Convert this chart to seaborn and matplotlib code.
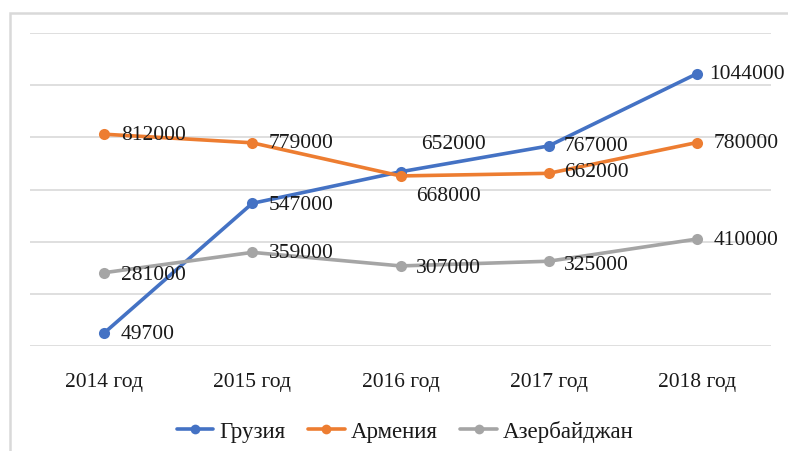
import matplotlib
matplotlib.use("Agg")
import matplotlib.pyplot as plt
import seaborn as sns
import pandas as pd
from matplotlib.patches import Rectangle

years = ["2014 год", "2015 год", "2016 год", "2017 год", "2018 год"]
georgia = [49700, 547000, 668000, 767000, 1044000]
armenia = [812000, 779000, 652000, 662000, 780000]
azerbaijan = [281000, 359000, 307000, 325000, 410000]
series_names = ["Грузия", "Армения", "Азербайджан"]
colors = ["#4472C4", "#ED7D31", "#A5A5A5"]

rows = []
for name, vals in zip(series_names, [georgia, armenia, azerbaijan]):
    for i, v in enumerate(vals):
        rows.append({"pos": i, "year": years[i], "value": v, "country": name})
df = pd.DataFrame(rows)

sns.set_theme(style="white")
plt.rcParams["font.family"] = ["Liberation Serif", "DejaVu Serif"]

fig = plt.figure(figsize=(7.88, 4.52), dpi=100)
ax = fig.add_axes([30/788, (452-347)/452, 741/788, 313/452])

sns.lineplot(data=df, x="pos", y="value", hue="country", hue_order=series_names,
             palette=colors, marker="o", markersize=8, markeredgewidth=0,
             linewidth=2.6, ax=ax, legend=False, sort=False)

ax.set_xlim(-0.5, 4.5)
ax.set_ylim(0, 1200000)
ax.set_yticks(range(0, 1200001, 200000))
ax.set_yticklabels([])
ax.set_xticks(range(len(years)))
ax.set_xticklabels(years, fontsize=15.5, color="#1a1a1a")
ax.tick_params(axis="x", length=0, pad=19)
ax.tick_params(axis="y", length=0)
ax.grid(axis="y", color="#d9d9d9", linewidth=1.2)
ax.grid(axis="x", visible=False)
for s in ax.spines.values():
    s.set_visible(False)
ax.set_xlabel("")
ax.set_ylabel("")

# data labels: offsets in points (dx, dy)
offsets = {
    "Грузия": [(12, 0), (12, -1), (11, -17), (11, 0), (9, 0)],
    "Армения": [(12, 0), (12, 0), (15, 23), (11, 1), (12, 0)],
    "Азербайджан": [(12, -1), (12, 0), (11, -1), (11, -2), (12, 0)],
}
for name, vals in zip(series_names, [georgia, armenia, azerbaijan]):
    for i, v in enumerate(vals):
        dx, dy = offsets[name][i]
        ax.annotate(f"{v}", xy=(i, v), xytext=(dx, dy), textcoords="offset points",
                    ha="left", va="center", fontsize=15.5, color="#1a1a1a")

handles = [plt.Line2D([], [], color=c, marker="o", markersize=7, markeredgewidth=0,
                      linewidth=2.6) for c in colors]
fig.legend(handles, series_names, loc="center", bbox_to_anchor=(405/788, 1 - 432/452),
           ncol=3, frameon=False, fontsize=16.5, handlelength=1.6, handletextpad=0.25,
           columnspacing=1.0, labelcolor="#1a1a1a")

fig.add_artist(Rectangle((10/788, -0.05), 1.1, (452-14)/452 + 0.05,
                         transform=fig.transFigure, fill=False,
                         edgecolor="#d9d9d9", linewidth=1.8))

fig.savefig("out.png", dpi=100)
